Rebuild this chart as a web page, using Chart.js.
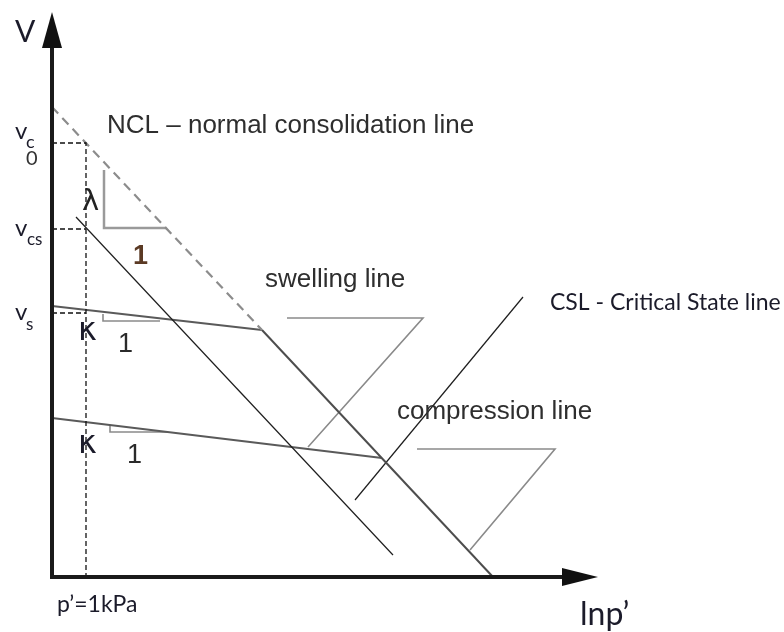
<!DOCTYPE html>
<html>
<head>
<meta charset="utf-8">
<script src="https://cdn.jsdelivr.net/npm/chart.js@4.4.1/dist/chart.umd.min.js"></script>
<style>
  html, body { margin: 0; padding: 0; background: #fff; }
  #wrap { width: 784px; height: 632px; position: relative; }
</style>
</head>
<body>
<div id="wrap"><canvas id="csChart"></canvas></div>
<script>
// axes: x = ln p', y = v (arbitrary units)
const xMax = 11;
const yMax = 11.3;

// NCL, dashed part above the yield point, solid (compression) part below it
const nclDashed = [[0, 9.4], [4.2, 4.94]];
const nclSolid = [[4.2, 4.94], [8.82, 0]];
// line through v_cs, parallel to NCL
const cslParallel = [[0.48, 7.2], [6.82, 0.44]];
// swelling (kappa) lines
const swellUpper = [[0, 5.42], [4.2, 4.94]];
const swellLower = [[0, 3.18], [6.6, 2.38]];
// CSL
const csl = [[6.06, 1.54], [9.42, 5.6]];
// label pointers
const swellPointer = [[4.7, 5.18], [7.42, 5.18], [5.12, 2.6]];
const comprPointer = [[7.3, 2.56], [10.06, 2.56], [8.36, 0.54]];
// reference guides at p'=1kPa
const guideVc0 = [[0, 8.68], [0.68, 8.68], [0.68, 0]];
const guideVcs = [[0, 6.96], [0.68, 6.96]];
const guideVs = [[0, 5.28], [0.68, 5.28]];
// slope triangles
const lambdaTri = [[1.04, 8.14], [1.04, 6.98], [2.28, 6.98]];
const kappaTri1 = [[1.02, 5.26], [1.02, 5.12], [2.16, 5.12]];
const kappaTri2 = [[1.16, 3.04], [1.16, 2.9], [2.3, 2.9]];

// text annotations [text, x, y, font, colour]
const labels = [
    ["V", -0.74, 10.7, "30px Lato", "#1b1b2a"],
    ["NCL \u2013 normal consolidation line", 1.1, 8.88, "26px 'Liberation Sans'", "#2e2e2e"],
    ["v", -0.74, 8.76, "24px Lato", "#1b1b2a"],
    ["c", -0.52, 8.58, "18px Lato", "#1b1b2a"],
    ["0", -0.52, 8.24, "20px Lato", "#333"],
    ["v", -0.74, 6.82, "24px Lato", "#1b1b2a"],
    ["cs", -0.5, 6.64, "17px Lato", "#1b1b2a"],
    ["v", -0.74, 5.14, "24px Lato", "#1b1b2a"],
    ["s", -0.52, 4.94, "17px Lato", "#1b1b2a"],
    ["\u03bb", 0.6, 7.34, "29px 'DejaVu Sans'", "#222"],
    ["1", 1.62, 6.26, "bold 27px 'Liberation Sans'", "#5b3a24"],
    ["\u03ba", 0.52, 4.74, "32px 'DejaVu Sans'", "#1b1b2a"],
    ["1", 1.32, 4.5, "27px 'Liberation Sans'", "#2a2a2a"],
    ["\u03ba", 0.52, 2.48, "32px 'DejaVu Sans'", "#1b1b2a"],
    ["1", 1.5, 2.28, "27px 'Liberation Sans'", "#2a2a2a"],
    ["swelling line", 4.26, 5.8, "26px 'Liberation Sans'", "#2e2e2e"],
    ["CSL - Critical State line", 9.96, 5.34, "23px Lato", "#1b1b2a"],
    ["compression line", 6.9, 3.16, "26px 'Liberation Sans'", "#2e2e2e"],
    ["p\u2019=1kPa", 0.1, -0.7, "23px Lato", "#1b1b2a"],
    ["lnp\u2019", 10.56, -0.96, "32px Lato", "#1b1b2a"],
];

function pts(arr) {
    return arr.map(function (p) { return { x: p[0], y: p[1] }; });
}

function seg(data, color, width, dash) {
    return {
        data: pts(data),
        showLine: true,
        pointRadius: 0,
        borderColor: color,
        borderWidth: width,
        borderDash: dash || [],
        fill: false,
        clip: false,
    };
}

// axes with arrow heads and the text
const sketchPlugin = {
    id: "sketch",
    afterDatasetsDraw: function (chart) {
        const ctx = chart.ctx;
        const xs = chart.scales.x;
        const ys = chart.scales.y;
        const x0 = xs.getPixelForValue(0);
        const y0 = ys.getPixelForValue(0);
        const yTop = ys.getPixelForValue(yMax);
        const xEnd = xs.getPixelForValue(xMax) - 4;

        ctx.save();
        ctx.strokeStyle = "#1a1a1a";
        ctx.fillStyle = "#111";
        ctx.lineWidth = 4;
        ctx.lineCap = "square";
        ctx.beginPath();
        ctx.moveTo(x0, yTop + 34);
        ctx.lineTo(x0, y0);
        ctx.lineTo(xEnd - 34, y0);
        ctx.stroke();

        ctx.beginPath();
        ctx.moveTo(x0, yTop);
        ctx.lineTo(x0 - 10, yTop + 36);
        ctx.lineTo(x0 + 10, yTop + 36);
        ctx.closePath();
        ctx.fill();

        ctx.beginPath();
        ctx.moveTo(xEnd, y0);
        ctx.lineTo(xEnd - 36, y0 - 9);
        ctx.lineTo(xEnd - 36, y0 + 9);
        ctx.closePath();
        ctx.fill();

        ctx.textAlign = "left";
        ctx.textBaseline = "alphabetic";
        labels.forEach(function (l) {
            ctx.font = l[3];
            ctx.fillStyle = l[4];
            ctx.fillText(l[0], xs.getPixelForValue(l[1]), ys.getPixelForValue(l[2]));
        });
        ctx.restore();
    },
};

document.addEventListener("DOMContentLoaded", function () {
    const el = document.getElementById("csChart");

    new Chart(el, {
        type: "scatter",
        data: {
            datasets: [
                seg(guideVc0, "#111", 1.3, [5, 3]),
                seg(guideVcs, "#111", 1.3, [5, 3]),
                seg(guideVs, "#111", 1.3, [5, 3]),
                seg(nclDashed, "#8c8c8c", 2.2, [9, 6]),
                seg(nclSolid, "#4d4d4d", 2),
                seg(cslParallel, "#1e1e1e", 1.2),
                seg(swellUpper, "#5a5a5a", 2),
                seg(swellLower, "#5a5a5a", 2),
                seg(csl, "#1e1e1e", 1.2),
                seg(swellPointer, "#8a8a8a", 1.6),
                seg(comprPointer, "#8a8a8a", 1.6),
                seg(lambdaTri, "#9a9a9a", 2.5),
                seg(kappaTri1, "#8a8a8a", 1.6),
                seg(kappaTri2, "#8a8a8a", 1.6),
            ],
        },
        options: {
            responsive: true,
            maintainAspectRatio: false,
            animation: false,
            layout: {
                padding: { left: 52, right: 182, top: 12, bottom: 55 },
            },
            scales: {
                x: { type: "linear", min: 0, max: xMax, display: false },
                y: { type: "linear", min: 0, max: yMax, display: false },
            },
            plugins: {
                legend: { display: false },
                tooltip: { enabled: false },
            },
        },
        plugins: [sketchPlugin],
    });
});
</script>
</body>
</html>
